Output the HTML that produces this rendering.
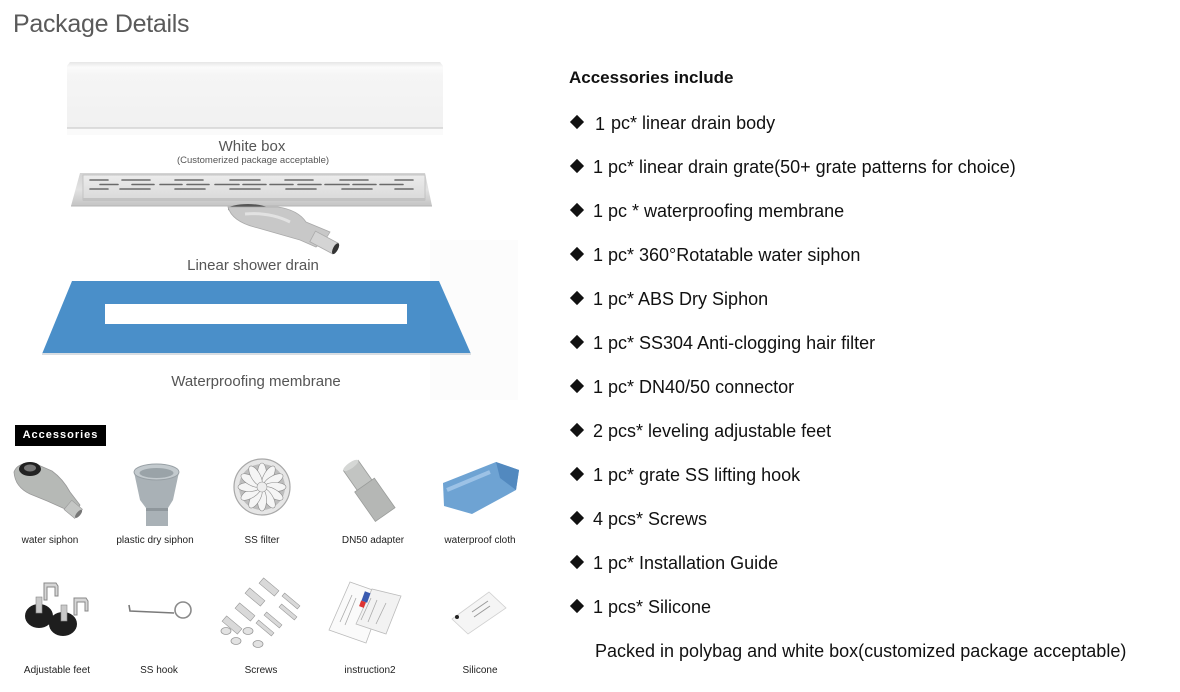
<!DOCTYPE html>
<html><head><meta charset="utf-8">
<style>
html,body{margin:0;padding:0;background:#fff;}
body{width:1180px;height:692px;position:relative;overflow:hidden;font-family:"Liberation Sans",Arial,sans-serif;}
.t{position:absolute;white-space:nowrap;}
.title{left:13px;top:10px;font-size:25px;color:#5a5a5a;letter-spacing:-0.3px;}
.hdr{left:569px;top:68px;font-size:17px;font-weight:bold;color:#111;}
.li{position:absolute;left:571px;height:22px;line-height:22px;font-size:18px;color:#111;white-space:nowrap;}
.li > i{position:absolute;left:1px;top:5px;width:10px;height:10px;background:#111;transform:rotate(45deg);}
.li > span{position:absolute;left:22px;top:0;}
.li b{font-weight:normal;position:relative;top:1px;margin-right:1px;}
.badge{position:absolute;left:15px;top:425px;width:91px;height:21px;background:#000;color:#fff;font-size:11px;font-weight:bold;letter-spacing:1px;line-height:21px;text-align:center;}
.lab{position:absolute;font-size:10px;color:#222;white-space:nowrap;transform:translateX(-50%);}
</style></head>
<body>
<svg width="1180" height="692" style="position:absolute;left:0;top:0" xmlns="http://www.w3.org/2000/svg">
<defs>
<linearGradient id="box" x1="0" y1="0" x2="0" y2="1">
<stop offset="0" stop-color="#e6e6e6"/><stop offset="0.08" stop-color="#fbfbfb"/><stop offset="0.2" stop-color="#f5f5f5"/><stop offset="1" stop-color="#f1f1f1"/>
</linearGradient>
<linearGradient id="grt" x1="0" y1="0" x2="0" y2="1">
<stop offset="0" stop-color="#d2d2d2"/><stop offset="0.5" stop-color="#e2e2e2"/><stop offset="1" stop-color="#c4c4c4"/>
</linearGradient>
<linearGradient id="plate" x1="0" y1="0" x2="0" y2="1">
<stop offset="0" stop-color="#ececec"/><stop offset="1" stop-color="#d9d9d9"/>
</linearGradient>
</defs>
<rect x="430" y="240" width="88" height="160" fill="#fcfcfc"/>
<!-- White box -->
<path d="M70,62 L440,62 L443,66 L443,128 L67,128 L67,66 Z" fill="url(#box)"/>
<line x1="67" y1="128" x2="443" y2="128" stroke="#d4d4d4" stroke-width="1.5"/>
<rect x="67" y="129" width="376" height="6" fill="#fafafa"/>
<text x="252" y="151" font-size="15" fill="#555" text-anchor="middle" font-family="Liberation Sans, sans-serif">White box</text>
<text x="253" y="163" font-size="9.5" fill="#555" text-anchor="middle" font-family="Liberation Sans, sans-serif">(Customerized package acceptable)</text>
<!-- Grate -->
<path d="M80,173 L425,173 L432,206 L71,206 Z" fill="url(#grt)"/>
<path d="M71,206 L432,206" stroke="#b5b5b5" stroke-width="1"/>
<rect x="83" y="175" width="342" height="25" fill="url(#plate)" stroke="#bdbdbd" stroke-width="0.8"/>
<rect x="83" y="198" width="342" height="3" fill="#c2c2c2"/>
<g stroke="#6a6a6a" stroke-width="1.6" stroke-linecap="round">
<path d="M90,180h18 M122,180h28 M175,180h28 M230,180h30 M285,180h28 M340,180h28 M395,180h18"/>
<path d="M100,184.5h18 M132,184.5h22 M160,184.5h22 M187,184.5h22 M215,184.5h24 M243,184.5h23 M270,184.5h23 M298,184.5h23 M325,184.5h24 M353,184.5h23 M380,184.5h23"/>
<path d="M90,189h18 M120,189h30 M175,189h30 M230,189h30 M286,189h30 M342,189h30 M395,189h18"/>
</g>
<!-- siphon under grate -->
<ellipse cx="248" cy="209" rx="20" ry="5" fill="#555"/>
<path d="M228,207 Q232,222 258,228 L300,240 L316,247 Q326,240 330,232 L306,222 Q298,210 278,207 Z" fill="#c8c8c8" stroke="#aaa" stroke-width="0.8"/>
<path d="M245,214 Q270,212 290,222" stroke="#e2e2e2" stroke-width="3" fill="none"/>
<g transform="translate(325,243) rotate(28)">
<rect x="-14" y="-6" width="26" height="12" fill="#d4d4d4" stroke="#aaa" stroke-width="0.8"/>
<ellipse cx="12" cy="0" rx="2.5" ry="6" fill="#333"/>
</g>
<text x="253" y="270" font-size="15" fill="#555" text-anchor="middle" font-family="Liberation Sans, sans-serif">Linear shower drain</text>
<!-- Membrane -->
<path d="M72,281 L439,281 L471,354 L42,354 Z" fill="#4a8fc9"/>
<path d="M42,354 L471,354" stroke="#d8dde2" stroke-width="2"/>
<rect x="105" y="304" width="302" height="20" fill="#fff"/>
<text x="256" y="386" font-size="15" fill="#555" text-anchor="middle" font-family="Liberation Sans, sans-serif">Waterproofing membrane</text>

<!-- Row 1 icons -->
<path d="M14,472 Q18,461 36,464 L52,471 Q63,479 70,492 L80,505 L75,515 L65,509 Q48,501 30,494 Q15,487 14,472 Z" fill="#b6b9b6" stroke="#999" stroke-width="0.8"/>
<g transform="translate(74,510) rotate(40)"><rect x="-8" y="-6" width="14" height="12" fill="#c4c6c4" stroke="#999" stroke-width="0.6"/><ellipse cx="6" cy="0" rx="2" ry="5" fill="#777"/></g>
<ellipse cx="30" cy="469" rx="11" ry="7" fill="#222"/>
<ellipse cx="30" cy="468" rx="6" ry="3.5" fill="#777"/>
<path d="M134,472 L140,500 L146,508 L146,526 L168,526 L168,508 L173,500 L179,472 Z" fill="#a9b1b6"/>
<ellipse cx="156.5" cy="472" rx="22.5" ry="8" fill="#c3cace" stroke="#98a0a5" stroke-width="1"/>
<ellipse cx="156.5" cy="473" rx="17" ry="5" fill="#9aa3a8"/>
<rect x="146" y="508" width="22" height="3" fill="#8f979c"/>
<circle cx="262" cy="487" r="28" fill="#e6e6e6" stroke="#a8a8a8" stroke-width="1.2"/>
<circle cx="262" cy="487" r="23" fill="#bdbdbd"/>
<g fill="#f5f5f5" stroke="#8c8c8c" stroke-width="0.6">
<ellipse cx="262" cy="474" rx="4.5" ry="11" transform="rotate(0 262 487)"/>
<ellipse cx="262" cy="474" rx="4.5" ry="11" transform="rotate(30 262 487)"/>
<ellipse cx="262" cy="474" rx="4.5" ry="11" transform="rotate(60 262 487)"/>
<ellipse cx="262" cy="474" rx="4.5" ry="11" transform="rotate(90 262 487)"/>
<ellipse cx="262" cy="474" rx="4.5" ry="11" transform="rotate(120 262 487)"/>
<ellipse cx="262" cy="474" rx="4.5" ry="11" transform="rotate(150 262 487)"/>
<ellipse cx="262" cy="474" rx="4.5" ry="11" transform="rotate(180 262 487)"/>
<ellipse cx="262" cy="474" rx="4.5" ry="11" transform="rotate(210 262 487)"/>
<ellipse cx="262" cy="474" rx="4.5" ry="11" transform="rotate(240 262 487)"/>
<ellipse cx="262" cy="474" rx="4.5" ry="11" transform="rotate(270 262 487)"/>
<ellipse cx="262" cy="474" rx="4.5" ry="11" transform="rotate(300 262 487)"/>
<ellipse cx="262" cy="474" rx="4.5" ry="11" transform="rotate(330 262 487)"/>
</g>
<circle cx="262" cy="487" r="5" fill="#eee" stroke="#999" stroke-width="0.6"/>
<g transform="translate(368,490) rotate(55)">
<rect x="-30" y="-9" width="26" height="18" fill="#c2c4c2" stroke="#9a9c9a" stroke-width="0.8"/>
<rect x="-6" y="-12" width="36" height="24" fill="#b5b7b5" stroke="#9a9c9a" stroke-width="0.8"/>
<ellipse cx="-30" cy="0" rx="3" ry="9" fill="#d5d7d5"/>
</g>
<path d="M443,483 L496,462 L519,470 L516,490 L472,514 L444,506 Z" fill="#6ea3d3"/>
<path d="M496,462 L519,470 L516,490 L500,478 Z" fill="#5289bf"/>
<path d="M447,490 L490,472" stroke="#9cc2e6" stroke-width="4"/>

<!-- Row 2 icons -->
<g stroke="#888" stroke-width="1" fill="#d6d6d6">
<path d="M44,583 L56,583 L58,586 L58,596 L55,596 L55,587 L47,587 L47,600 L44,600 Z"/>
<path d="M74,598 L86,598 L88,601 L88,611 L85,611 L85,602 L77,602 L77,615 L74,615 Z"/>
</g>
<ellipse cx="39" cy="616" rx="14" ry="12" fill="#1e1e1e"/>
<ellipse cx="63" cy="624" rx="14" ry="12" fill="#1e1e1e"/>
<rect x="36" y="597" width="6" height="16" fill="#c9c9c9" stroke="#888" stroke-width="0.6"/>
<rect x="61" y="605" width="6" height="16" fill="#c9c9c9" stroke="#888" stroke-width="0.6"/>
<path d="M129,605 L130,611 L174,613" stroke="#7a7a7a" stroke-width="1.6" fill="none"/>
<circle cx="183" cy="610" r="8" fill="none" stroke="#8a8a8a" stroke-width="1.6"/>
<g stroke="#999" stroke-width="0.6" fill="#d9d9d9">
<g transform="translate(269,587) rotate(40)"><rect x="-10" y="-3.5" width="20" height="7"/></g>
<g transform="translate(255,597) rotate(40)"><rect x="-10" y="-3.5" width="20" height="7"/></g>
<g transform="translate(245,612) rotate(40)"><rect x="-10" y="-3.5" width="20" height="7"/></g>
<g transform="translate(232,625) rotate(40)"><rect x="-10" y="-3.5" width="20" height="7"/></g>
<g transform="translate(288,612) rotate(40)"><rect x="-10" y="-2" width="20" height="4"/></g>
<g transform="translate(291,601) rotate(40)"><rect x="-10" y="-2" width="20" height="4"/></g>
<g transform="translate(265,628) rotate(40)"><rect x="-10" y="-2" width="20" height="4"/></g>
<g transform="translate(273,620) rotate(40)"><rect x="-10" y="-2" width="20" height="4"/></g>
</g>
<g fill="#e2e2e2" stroke="#999" stroke-width="0.8">
<ellipse cx="226" cy="631" rx="5" ry="3.5"/><ellipse cx="236" cy="641" rx="5" ry="3.5"/>
<ellipse cx="248" cy="631" rx="5" ry="3.5"/><ellipse cx="258" cy="644" rx="5" ry="3.5"/>
</g>
<path d="M329,630 L350,582 L384,594 L366,643 Z" fill="#fafafa" stroke="#bbb" stroke-width="0.8"/>
<path d="M356,624 L372,589 L401,596 L386,634 Z" fill="#f2f2f2" stroke="#bbb" stroke-width="0.8"/>
<g stroke="#aaa" stroke-width="0.8">
<path d="M340,622 L352,595 M345,625 L356,598 M361,620 L371,598 M368,622 L377,600 M376,624 L386,603"/>
</g>
<rect x="363" y="592" width="6" height="10" fill="#3a5bb0" transform="rotate(20 366 597)"/>
<rect x="360" y="601" width="5" height="6" fill="#d33" transform="rotate(20 362 604)"/>
<path d="M452,619 L489,592 L506,608 L468,634 Z" fill="#f5f5f5" stroke="#d0d0d0" stroke-width="0.8"/>
<circle cx="457" cy="617" r="2" fill="#222"/>
<path d="M472,612 L488,601 M474,617 L490,606" stroke="#999" stroke-width="1"/>
</svg>

<div class="t title">Package Details</div>
<div class="badge">Accessories</div>

<div class="lab" style="left:50px;top:535px">water siphon</div>
<div class="lab" style="left:155px;top:535px">plastic dry siphon</div>
<div class="lab" style="left:262px;top:535px">SS filter</div>
<div class="lab" style="left:373px;top:535px">DN50 adapter</div>
<div class="lab" style="left:480px;top:535px">waterproof cloth</div>
<div class="lab" style="left:57px;top:665px">Adjustable feet</div>
<div class="lab" style="left:159px;top:665px">SS hook</div>
<div class="lab" style="left:261px;top:665px">Screws</div>
<div class="lab" style="left:370px;top:665px">instruction2</div>
<div class="lab" style="left:480px;top:665px">Silicone</div>

<div class="t hdr">Accessories include</div>
<div class="li" style="top:112px"><i></i><span style="left:24px"><b>1</b> pc* linear drain body</span></div>
<div class="li" style="top:156px"><i></i><span>1 pc* linear drain grate(50+ grate patterns for choice)</span></div>
<div class="li" style="top:200px"><i></i><span>1 pc * waterproofing membrane</span></div>
<div class="li" style="top:244px"><i></i><span>1 pc* 360°Rotatable water siphon</span></div>
<div class="li" style="top:288px"><i></i><span>1 pc* ABS Dry Siphon</span></div>
<div class="li" style="top:332px"><i></i><span>1 pc* SS304 Anti-clogging hair filter</span></div>
<div class="li" style="top:376px"><i></i><span>1 pc* DN40/50 connector</span></div>
<div class="li" style="top:420px"><i></i><span>2 pcs* leveling adjustable feet</span></div>
<div class="li" style="top:464px"><i></i><span>1 pc* grate SS lifting hook</span></div>
<div class="li" style="top:508px"><i></i><span>4 pcs* Screws</span></div>
<div class="li" style="top:552px"><i></i><span>1 pc* Installation Guide</span></div>
<div class="li" style="top:596px"><i></i><span>1 pcs* Silicone</span></div>
<div class="li" style="top:640px"><span style="left:24px">Packed in polybag and white box(customized package acceptable)</span></div>
</body></html>
